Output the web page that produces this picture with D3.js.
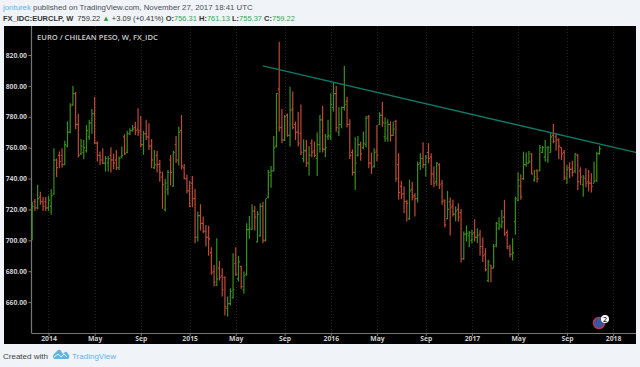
<!DOCTYPE html>
<html><head><meta charset="utf-8">
<style>html,body{margin:0;padding:0;background:#f0f3f7;overflow:hidden}svg{display:block}</style>
<script src="https://cdn.jsdelivr.net/npm/d3@7"></script></head><body>
<svg id="c" width="640" height="367"></svg>
<script>
const firstBar = "2013-11-25";
const highs = [725,727,736,731.5,728,728,729,733,759.6,753,757.5,759.6,764.5,777,788.7,800,796,781.8,765.6,765,774.7,778,785,793,764,757.5,759.6,754.6,754.6,760.2,756,758.5,754.2,760.7,768.7,771,772.5,774.7,776.8,785.5,780.5,771,778,775.8,765.4,758.5,757.9,752,744.5,739.8,745.6,755.3,758,767.6,773.6,781.2,749.5,742.4,738.5,741.7,733.3,718.6,723.4,715.4,710,709.4,695.6,684.1,701.4,686.7,682,676.6,663.6,669,691.7,695.6,690,683.5,679.8,711,715.8,723.4,722.3,719,724,725,726.6,745.6,748.2,767.6,795.2,828.6,785,781.2,782.2,799.5,796.3,776.9,783.3,788,765.4,765,761.1,765.4,763.9,770,781.2,787,768.9,778,795.2,802,799.9,786.1,786.6,812.9,793,778.4,758.9,766.7,767.6,763.9,770.4,780.5,781.2,756.8,759.6,774.7,783,789.8,779.7,778.4,776.9,776.9,778,756.4,738.5,734.8,726.2,739.2,738,730.5,751,756.4,763.5,755.3,762.9,756.4,747.8,750.6,749.9,739.1,726.2,732,727.7,726.2,721.9,724,720.2,705.7,709.6,706.1,706.8,713.7,707.9,706.8,701.8,694.9,687.4,684.1,697.7,711.8,715,719.7,726.2,706.8,697.1,701.4,728.4,744.1,742.8,757.4,756.8,757.9,756.4,745.6,746,761.8,761.1,765,761.1,769.3,775.3,769.7,766,760.2,758.5,748.8,750.5,751.6,756.4,755.9,747.3,742.3,746.7,745.6,743.4,751,757.4,761.13];
const lows = [700,719,720,723,719,719,719,716.5,729.4,741,746.6,747,748.8,760.2,769.3,787,772,753.6,755.3,752.5,756.8,765,769,762.2,751,748.8,749.5,744.5,744.5,743.9,746,745.6,745.6,753.1,755.3,756.4,768.2,770.4,768.2,767.6,760.2,755.3,765,758.5,746.6,746.2,744,738,720.4,718.6,729.4,735.5,734.8,750,748.4,746,739.6,730.5,721.4,721.4,698.1,699.2,706.3,704.6,696,690,677.7,670.1,670.5,674,663.6,651.3,650.7,657.8,662.1,677,673.3,668.6,665.4,677,701,706.8,706.3,698.6,702.5,698.1,699.2,727.2,734.1,744.5,760.2,770.4,762.8,764.3,767.1,760.7,771.9,765,760.7,755.3,750.5,747.7,741.9,753.8,753.8,741.7,756.8,756.8,753.8,765,765,783.3,770.4,767.6,772.5,784,773,752.7,741.9,732.6,754.2,751.6,759,760.2,746.7,743,747,751,774.7,773.6,763.9,763.9,763.9,767.6,738,726.2,726.6,717.6,712.2,713.3,725.8,715.4,724.5,745.6,746.7,741.3,749.9,735.9,734.4,735.3,733.3,723,708.3,713.7,703.1,715.4,712.2,712.2,685.7,687.4,699.2,695.6,698,699.2,698.2,690,685.9,679.8,672.9,672.9,682,695.6,706.8,707.9,702.9,694.3,689.1,686.9,703.6,725.1,726.2,739.1,747.7,749.9,742.8,738,737.4,744.9,756.4,751,750.3,756.8,762.8,758.1,752.5,752,739.1,736.5,740.2,741.3,743.4,732.6,735.9,728.3,734.4,731.6,730.9,737.4,738,755.37];
const opens = [702,725,721,728,725,725,721,722,730,752,755,755,749,761,770,788,795,775,756,757,758,767,776,782,763,755,752,750,750,755,752,752,747,754,767,757,769,771,773,772,771,762,769,767,761,747,755,749,741,720,733,752,735,762,752,771,747,740,732,737,727,702,716,711,706,702,692,680,671,682,677,676,656,659,663,685,675,683,668,678,707,707,719,699,703,722,700,728,742,745,761,798,773,765,781,768,785,775,770,769,753,758,750,763,758,753,762,778,759,767,767,786,795,770,775,786,790,775,757,744,755,762,760,762,780,750,748,758,775,781,767,766,775,768,777,749,735,730,725,714,733,729,727,750,753,749,757,754,743,738,749,737,726,714,725,722,717,720,718,688,704,703,700,705,702,704,696,691,674,684,682,697,708,709,715,705,695,691,712,726,735,740,749,750,756,739,745,745,757,754,752,757,768,767,765,760,757,740,747,746,745,755,745,736,740,738,737,737,739,756.31];
const closes = [722,721,727,725,722,721,726,729,752,747,751,749,762,770,787,795,775,755,761,760,771,776,782,763,755,752,750,753,753,752,750,747,753,755,756,769,771,772,771,770,762,769,767,761,752,749,749,744,736,737,744,744,757,752,770,748,740,732,722,727,702,716,711,706,702,701,679,673,675,676,668,657,659,667,668,678,686,670,677,707,708,719,715,717,722,700,727,744,745,760,795,773,765,780,768,784,773,770,763,757,758,750,755,757,755,762,778,759,760,768,788,795,773,775,786,788,775,755,744,750,762,756,763,779,750,747,757,755,781,776,776,775,768,772,740,731,730,725,724,732,728,727,749,753,749,754,753,743,737,750,736,725,710,720,721,717,719,715,688,704,704.5,705,704,702,703,696,690,681,686,682,696,711,710,712,704,696,691,692,727,739,728,749,750,751,743,741,740,760,760,760,760,767,764,765,761,756,741,746,746,744,756,738,741,741,737,737,735,738,756,759.22];
const yTicks = [660,680,700,720,740,760,780,800,820];
const xTickDates = ["2014-01-06","2014-05-05","2014-09-01","2015-01-05","2015-05-04","2015-09-07","2016-01-04","2016-05-02","2016-09-05","2017-01-02","2017-05-01","2017-09-04","2018-01-01"];
const xTickLabels = ["2014","May","Sep","2015","May","Sep","2016","May","Sep","2017","May","Sep","2018"];
const trendDates = ["2015-07-13","2018-03-03"];
const trendValues = [812.9,756.8];

const FONT = "'Open Sans',sans-serif", HFONT = "'Liberation Sans',Arial,sans-serif";
const GREEN = "#3a8f1c", RED = "#bf4a35";
const parse = d3.utcParse("%Y-%m-%d");
const start = parse(firstBar);
const dates = highs.map((_, i) => d3.utcWeek.offset(start, i));
const svg = d3.select("#c");

const x = d3.scaleUtc().domain([start, dates[dates.length-1]]).range([32.2, 599.5]);
const y = d3.scaleLinear().domain([640, 820]).range([333, 55]);

svg.append("rect").attr("x",4).attr("y",26).attr("width",632).attr("height",318).attr("fill","#000");

const tickD = xTickDates.map(parse);
svg.append("g").selectAll("line").data(tickD).join("line")
  .attr("x1",d=>Math.round(x(d))+.5).attr("x2",d=>Math.round(x(d))+.5).attr("y1",26).attr("y2",333)
  .attr("stroke","#222").attr("stroke-dasharray","1,2");

const ax = svg.append("g").attr("transform","translate(0,333)")
  .call(d3.axisBottom(x).tickValues(tickD).tickFormat((d,i)=>xTickLabels[i]).tickSize(3).tickSizeOuter(0));
ax.select(".domain").attr("d","M31.5,0.5H636").attr("stroke","#777").attr("stroke-width",1.2);
const ay = svg.append("g").attr("transform","translate(31.5,0)")
  .call(d3.axisLeft(y).tickValues(yTicks).tickFormat(d3.format(".2f")).tickSize(3).tickSizeOuter(0));
ay.select(".domain").attr("d","M0,26V333").attr("stroke","#777").attr("stroke-width",1.2);
svg.selectAll(".tick line").attr("stroke","#777");
svg.selectAll(".tick text").attr("fill","#ccc").attr("font-family",FONT).attr("font-size",6.8).attr("font-weight",700);
ax.selectAll(".tick text").attr("dy","0.45em").attr("y",4.5);
ay.selectAll(".tick text").attr("x",-4.5);

const bars = svg.append("g").selectAll("g").data(dates).join("g")
  .attr("stroke",(d,i)=>closes[i]>=opens[i]?GREEN:RED).attr("stroke-width",1.2).attr("fill","none");
bars.append("line").attr("x1",d=>x(d)).attr("x2",d=>x(d))
  .attr("y1",(d,i)=>y(highs[i])).attr("y2",(d,i)=>y(lows[i]));
bars.append("line").attr("x1",d=>x(d)-1.4).attr("x2",d=>x(d))
  .attr("y1",(d,i)=>y(opens[i])).attr("y2",(d,i)=>y(opens[i]));
bars.append("line").attr("x1",d=>x(d)).attr("x2",d=>x(d)+1.4)
  .attr("y1",(d,i)=>y(closes[i])).attr("y2",(d,i)=>y(closes[i]));

svg.append("line")
  .attr("x1",x(parse(trendDates[0]))).attr("y1",y(trendValues[0]))
  .attr("x2",x(parse(trendDates[1]))).attr("y2",y(trendValues[1]))
  .attr("stroke","#0f7a68").attr("stroke-width",1.3);
svg.append("rect").attr("x",636).attr("y",26).attr("width",4).attr("height",318).attr("fill","#f0f3f7");

svg.append("text").attr("x",37).attr("y",40).attr("fill","#ccc").attr("font-family",FONT)
  .attr("font-size",7.6).attr("font-weight",600).text("EURO / CHILEAN PESO, W, FX_IDC");

const h1 = svg.append("text").attr("x",3).attr("y",10).attr("font-family",HFONT).attr("font-size",7.85).attr("fill","#4a4f59");
h1.append("tspan").attr("fill","#5fb4e8").text("jonturek");
h1.append("tspan").text(" published on TradingView.com, November 27, 2017 18:41 UTC");
const h2 = svg.append("text").attr("x",3).attr("y",21).attr("font-family",HFONT).attr("font-size",7.5).attr("fill","#333");
h2.append("tspan").attr("font-weight",700).text("FX_IDC:EURCLP, W");
h2.append("tspan").attr("dx",4).text("759.22 ");
h2.append("tspan").attr("fill","#2e9e3e").text("▲");
h2.append("tspan").text(" +3.09 (+0.41%) ");
[["O:","756.31"],["H:","761.13"],["L:","755.37"],["C:","759.22"]].forEach(([a,b])=>{
  h2.append("tspan").attr("font-weight",700).text(a);
  h2.append("tspan").attr("fill","#3aa655").text(b+" ");
});

svg.append("text").attr("x",3).attr("y",359).attr("font-family",HFONT).attr("font-size",8).attr("fill","#444").text("Created with");
svg.append("path").attr("fill","#5fb4e8")
  .attr("d","M54,359 a4,4 0 0 1 1,-6 l3,-3 q2,-1 3,1 l2,3 l2,-2 q2,-1 3,2 a3,3 0 0 1 0,5 z");
svg.append("path").attr("fill","none").attr("stroke","#f0f3f7").attr("stroke-width",1)
  .attr("d","M54,357 l4,-3 l3,3 l3,-3 l3,3");
svg.append("text").attr("x",72).attr("y",359).attr("font-family",HFONT).attr("font-size",8).attr("fill","#5fb4e8").text("TradingView");

svg.append("circle").attr("cx",599).attr("cy",323).attr("r",5.6).attr("fill","#3a55a0").attr("stroke","#c8304f").attr("stroke-width",1.3);
svg.append("circle").attr("cx",605).attr("cy",319).attr("r",4).attr("fill","#fff");
svg.append("text").attr("x",605).attr("y",321.5).attr("text-anchor","middle").attr("font-family",FONT).attr("font-size",7).attr("font-weight",600).attr("fill","#222").text("2");
</script></body></html>
